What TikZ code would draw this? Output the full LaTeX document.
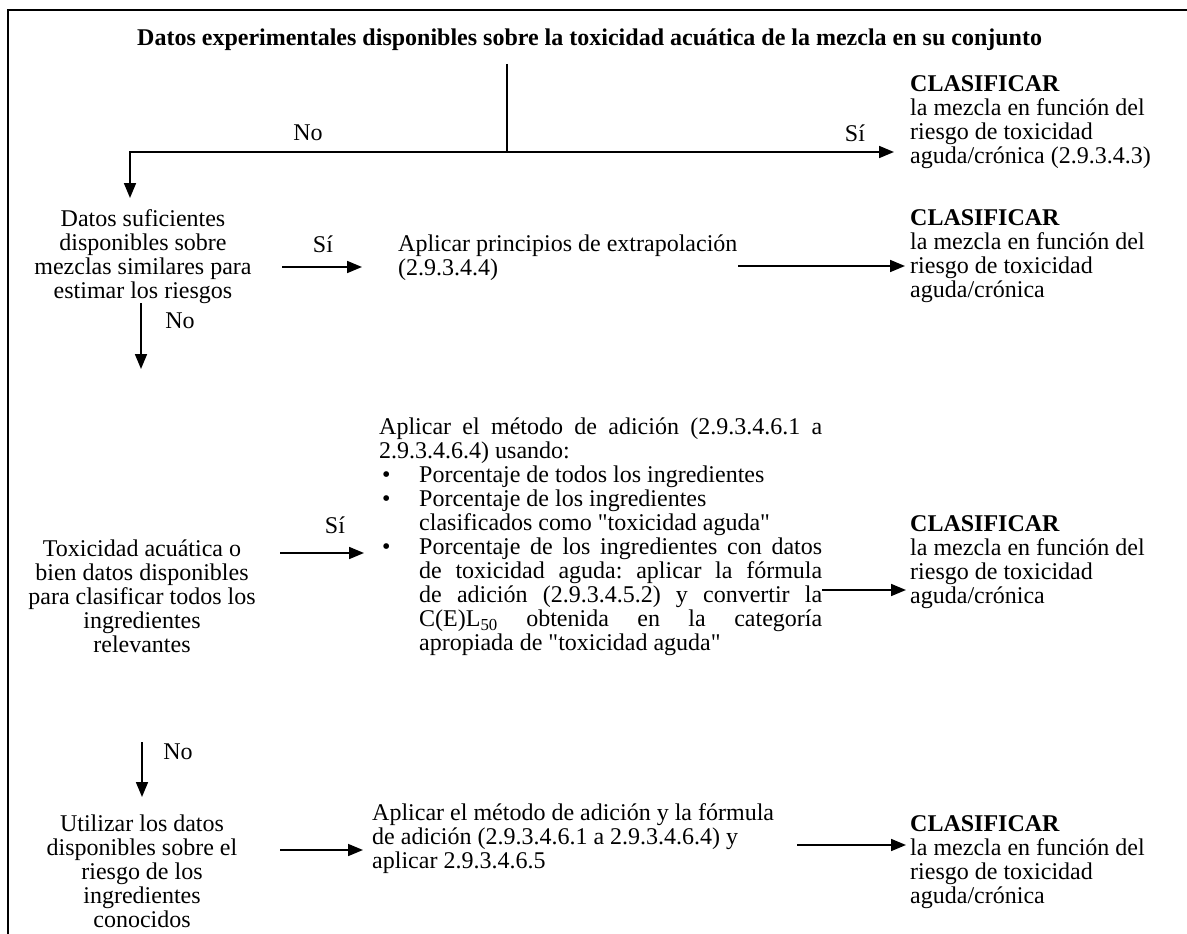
\documentclass[tikz,border=0pt]{standalone}
\usepackage{fontspec}
\setmainfont{Liberation Serif}
\usetikzlibrary{arrows.meta}
\begin{document}
\begin{tikzpicture}[x=1pt,y=-1pt,
  txt/.style={inner sep=0pt, font=\fontsize{24}{24}\selectfont},
  boldtxt/.style={inner sep=0pt, font=\bfseries\fontsize{24}{24}\selectfont},
  lbl/.style={inner sep=0pt, font=\fontsize{24}{24}\selectfont},
  arr/.style={line width=1.7pt, -{Triangle[length=15pt,width=12pt]}},
  ln/.style={line width=1.7pt},
  frame/.style={line width=1.4pt}]
\useasboundingbox (0,0) rectangle (1187,934);
\frenchspacing
\draw[frame] (8,934) -- (8,10) -- (1187,10);

% title
\node[boldtxt, anchor=base west] (title) at (137,46) {Datos experimentales disponibles sobre la toxicidad acuática de la mezcla en su conjunto};

% blocks
\node[txt, anchor=north west, align=left] (c1) at (910,75) {\textbf{CLASIFICAR}\\la mezcla en función del\\riesgo de toxicidad\\aguda/crónica (2.9.3.4.3)};
\node[txt, anchor=north, align=center] (d2) at (143,209) {Datos suficientes\\disponibles sobre\\mezclas similares para\\estimar los riesgos};
\node[txt, anchor=north west, align=left] (ap2) at (398,235) {Aplicar principios de extrapolación\\(2.9.3.4.4)};
\node[txt, anchor=north west, align=left] (c2) at (910,209) {\textbf{CLASIFICAR}\\la mezcla en función del\\riesgo de toxicidad\\aguda/crónica};
\node[txt, anchor=north, align=center] (d3) at (142,540) {Toxicidad acuática o\\bien datos disponibles\\para clasificar todos los\\ingredientes\\relevantes};
\node[txt, anchor=north west, text width=443pt, align=justify] (a3) at (379,418) {\parindent=0pt\tolerance=10000\hyphenpenalty=10000\frenchspacing
Aplicar el método de adición (2.9.3.4.6.1 a\linebreak 2.9.3.4.6.4) usando:\par
\hangindent=40pt\hangafter=1\noindent\makebox[40pt][l]{\hspace{3pt}\textbullet}Porcentaje de todos los ingredientes\par
\hangindent=40pt\hangafter=1\noindent\makebox[40pt][l]{\hspace{3pt}\textbullet}Porcentaje de los ingredientes\newline clasificados como \textquotedbl toxicidad aguda\textquotedbl\par
\hangindent=40pt\hangafter=1\noindent\makebox[40pt][l]{\hspace{3pt}\textbullet}Porcentaje de los ingredientes con datos\linebreak de toxicidad aguda: aplicar la fórmula\linebreak de adición (2.9.3.4.5.2) y convertir la\linebreak C(E)L\textsubscript{50} obtenida en la categoría\linebreak apropiada de \textquotedbl toxicidad aguda\textquotedbl\par};
\node[txt, anchor=north west, align=left] (c3) at (910,515) {\textbf{CLASIFICAR}\\la mezcla en función del\\riesgo de toxicidad\\aguda/crónica};
\node[txt, anchor=north, align=center] (d4) at (142,815) {Utilizar los datos\\disponibles sobre el\\riesgo de los\\ingredientes\\conocidos};
\node[txt, anchor=north west, align=left] (a4) at (372,803) {Aplicar el método de adición y la fórmula\\de adición (2.9.3.4.6.1 a 2.9.3.4.6.4) y\\aplicar 2.9.3.4.6.5};
\node[txt, anchor=north west, align=left] (c4) at (910,815) {\textbf{CLASIFICAR}\\la mezcla en función del\\riesgo de toxicidad\\aguda/crónica};

% labels
\node[lbl] (no1) at (308,133) {No};
\node[lbl] (si1) at (855,133) {Sí};
\node[lbl] (si2) at (323,244) {Sí};
\node[lbl] (no2) at (180,321) {No};
\node[lbl] (si3) at (335,525) {Sí};
\node[lbl] (no3) at (178,752) {No};

% coordinates
\coordinate (t1) at (507,64);
\coordinate (j) at (507,152);
\coordinate (jl) at (130,152);
\coordinate (jd) at (130,198);
\coordinate (jr) at (894,152);
\coordinate (a2s) at (282,267);
\coordinate (a2e) at (362,267);
\coordinate (b2s) at (738,266);
\coordinate (b2e) at (905,266);
\coordinate (n2s) at (141,303);
\coordinate (n2e) at (141,369);
\coordinate (a3s) at (280,553);
\coordinate (a3e) at (364,553);
\coordinate (b3s) at (822,590);
\coordinate (b3e) at (906,590);
\coordinate (n3s) at (142,742);
\coordinate (n3e) at (142,797);
\coordinate (a4s) at (280,850);
\coordinate (a4e) at (363,850);
\coordinate (b4s) at (797,845);
\coordinate (b4e) at (906,845);

% connectors
\draw[ln] (t1) -- (j);
\draw[arr] (j) -- (jl) -- (jd);
\draw[arr] (j) -- (jr);
\draw[arr] (a2s) -- (a2e);
\draw[arr] (b2s) -- (b2e);
\draw[arr] (n2s) -- (n2e);
\draw[arr] (a3s) -- (a3e);
\draw[arr] (b3s) -- (b3e);
\draw[arr] (n3s) -- (n3e);
\draw[arr] (a4s) -- (a4e);
\draw[arr] (b4s) -- (b4e);
\end{tikzpicture}
\end{document}
